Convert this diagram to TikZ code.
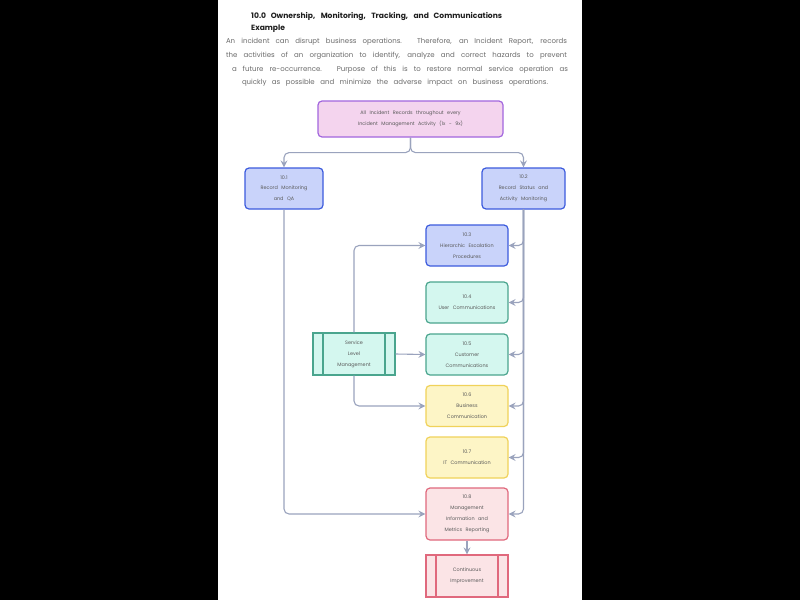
\documentclass[tikz,border=0pt]{standalone}
\usepackage{fontspec}
\setmainfont{Poppins}
\newfontfamily\bodyfont{Poppins}
\usetikzlibrary{arrows.meta,calc}
\newcommand\widesp{\setlength{\spaceskip}{3.5pt}}
\definecolor{conn}{HTML}{9AA3BD}
\definecolor{purB}{HTML}{A266DE}\definecolor{purF}{HTML}{F4D4EE}
\definecolor{bluB}{HTML}{3C5BDD}\definecolor{bluF}{HTML}{C9D3FA}
\definecolor{teaB}{HTML}{4AA58E}\definecolor{teaF}{HTML}{D4F7EF}
\definecolor{yelB}{HTML}{F0D25A}\definecolor{yelF}{HTML}{FDF5C6}
\definecolor{pinB}{HTML}{E0697D}\definecolor{pinF}{HTML}{FBE4E6}
\definecolor{txt}{HTML}{5A5A5A}
\tikzset{
  box/.style={draw, line width=1.2pt, rounded corners=4pt, minimum width=82pt, minimum height=41pt,
    align=center, text=txt, inner sep=1pt,
    font=\bodyfont\fontsize{4.9}{10.8}\selectfont\widesp},
  purbox/.style={box, draw=purB, fill=purF},
  blubox/.style={box, draw=bluB, fill=bluF},
  teabox/.style={box, draw=teaB, fill=teaF},
  yelbox/.style={box, draw=yelB, fill=yelF},
  pinbox/.style={box, draw=pinB, fill=pinF},
  subproc/.style={rounded corners=0pt, path picture={
    \draw[line width=1.4pt, draw=#1] ([xshift=10pt]path picture bounding box.north west) -- ([xshift=10pt]path picture bounding box.south west);
    \draw[line width=1.4pt, draw=#1] ([xshift=-10pt]path picture bounding box.north east) -- ([xshift=-10pt]path picture bounding box.south east);}},
  link/.style={draw=conn, line width=1.1pt, rounded corners=5pt, -{Stealth[length=7pt,width=7pt,inset=2.5pt]}},
  para/.style={text=black!58, inner sep=0pt, font=\bodyfont\fontsize{7}{8}\selectfont},
  ttl/.style={text=black!88, inner sep=0pt, font=\fontsize{7.6}{9}\selectfont\bfseries}
}
\begin{document}
\begin{tikzpicture}[x=1pt,y=-1pt]
\useasboundingbox (0,0) rectangle (800,600);
\fill[black] (0,0) rectangle (218,600);
\fill[black] (582,0) rectangle (800,600);
\fill[white] (218,0) rectangle (582,600);
% title
\node[ttl, anchor=west] (t1) at (251,16) {\makebox[251pt][s]{10.0 Ownership, Monitoring, Tracking, and Communications}};
\node[ttl, anchor=west] (t2) at (251,29) {Example};
% paragraph
\node[para] (p1) at (396.5,42) {\makebox[341pt][s]{An incident can disrupt business operations. Therefore, an Incident Report, records}};
\node[para] (p2) at (396.5,56) {\makebox[341pt][s]{the activities of an organization to identify, analyze and correct hazards to prevent}};
\node[para] (p3) at (400,69.5) {\makebox[336pt][s]{a future re-occurrence. Purpose of this is to restore normal service operation as}};
\node[para] (p4) at (395,83) {\makebox[306pt][s]{quickly as possible and minimize the adverse impact on business operations.}};
% nodes
\node[purbox, minimum width=185pt, minimum height=36pt] (top) at (410.5,119) {All Incident Records throughout every\\Incident Management Activity (1x - 9x)};
\node[blubox, minimum width=78pt] (n101) at (284,188.5) {10.1\\Record Monitoring\\and QA};
\node[blubox, minimum width=83pt] (n102) at (523.5,188.5) {10.2\\Record Status and\\Activity Monitoring};
\node[blubox] (n103) at (467,245.5) {10.3\\Hierarchic Escalation\\Procedures};
\node[teabox] (n104) at (467,302.5) {10.4\\User Communications};
\node[teabox] (n105) at (467,354.5) {10.5\\Customer\\Communications};
\node[yelbox] (n106) at (467,406) {10.6\\Business\\Communication};
\node[yelbox] (n107) at (467,457.5) {10.7\\IT Communication};
\node[pinbox, minimum height=52pt] (n108) at (467,514) {10.8\\Management\\Information and\\Metrics Reporting};
\node[pinbox, subproc=pinB, minimum height=42pt] (ci) at (467,576) {Continuous\\Improvement};
\node[teabox, subproc=teaB, minimum height=42pt] (slm) at (354,354) {Service\\Level\\Management};
% connectors
\draw[link] (top.south) -- ++(0,15) -| (n101.north);
\draw[link] (top.south) -- ++(0,15) -| (n102.north);
\draw[link] (n101.south) |- (n108.west);
\foreach \t in {n103,n104,n105,n106,n107,n108}
  \draw[link] (n102.south) |- (\t.east);
\draw[link] (slm.north) |- (n103.west);
\draw[link] (slm.east) -- (n105.west);
\draw[link] (slm.south) |- (n106.west);
\draw[link] (n108.south) -- (ci.north);
\end{tikzpicture}
\end{document}
